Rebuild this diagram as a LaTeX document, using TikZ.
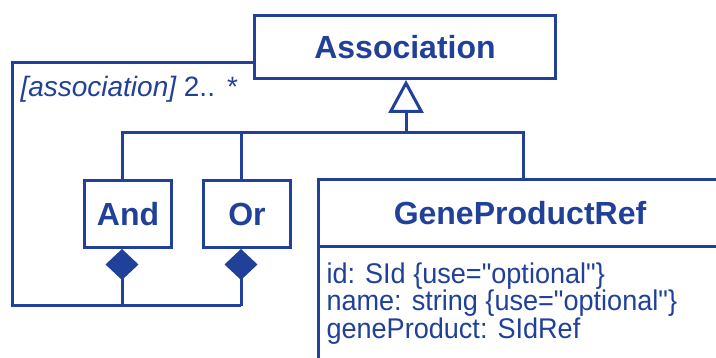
\documentclass[tikz,border=0pt]{standalone}
\usepackage{fontspec}
\setmainfont{Liberation Sans}
\newfontfamily\condfont{Liberation Sans}[FakeStretch=0.95,Ligatures=TeXOff]
\usetikzlibrary{arrows.meta}
\definecolor{umlblue}{RGB}{33,64,154}
\begin{document}
\begin{tikzpicture}[x=1pt,y=-1pt,
  line width=3pt, draw=umlblue, text=umlblue,
  cls/.style={draw=umlblue, fill=white, inner sep=0pt, font=\fontsize{32}{38}\selectfont\bfseries},
  attrbox/.style={draw=umlblue, fill=white, inner sep=0pt},
  gen/.style={-{Triangle[open,fill=white,length=33pt,width=35pt]}},
  comp/.style={-{Diamond[fill=umlblue,length=31pt,width=33pt]}},
  attr/.style={font=\condfont\fontsize{28.5}{27.5}\selectfont, inner sep=0pt, align=left, anchor=north west},
  lbl/.style={font=\fontsize{28}{30}\selectfont, inner sep=0pt, anchor=base west}
]
\useasboundingbox (0,0) rectangle (716,358);
\clip (0,0) rectangle (716,358);

% classes
\node[cls, minimum width=301pt, minimum height=63pt] (assoc) at (405,47) {Association};
\node[cls, minimum width=87pt, minimum height=67pt] (and) at (128,214) {And};
\node[cls, minimum width=87pt, minimum height=67pt] (or) at (247,214) {Or};
\node[attrbox, minimum width=403pt, minimum height=133pt] (gpra) at (520,313.5) {};
\node[cls, minimum width=403pt, minimum height=67.5pt] (gpr) at (520,213.25) {GeneProductRef};
\node[attr] (attrs) at (325,261) {id: SId \{use="optional"\}\\name: string \{use="optional"\}\\geneProduct: SIdRef};

% generalization tree
\coordinate (J) at (406,133);
\coordinate (JL) at (122,133);
\coordinate (JO) at (241,133);
\coordinate (JR) at (523,133);
\draw[umlblue, gen] (J) -- (assoc.south -| J);
\draw[umlblue] (and.north -| JL) -- (JL) -- (JR) -- (gpr.north -| JR);
\draw[umlblue] (JO) -- (or.north -| JO);

% composition
\coordinate (LC) at (122,306);
\coordinate (RC) at (241,306);
\coordinate (BL) at (12,306);
\coordinate (TL) at (12,63);
\draw[umlblue, comp] (LC) -- (and.south -| LC);
\draw[umlblue, comp] (RC) -- (or.south -| RC);
\draw[umlblue, line join=miter] (RC) -- (BL) -- (TL) -- (assoc.west |- TL);

\node[lbl, text=umlblue] (mult) at (19,97) {\itshape[association]\upshape\ 2..\hspace{12pt}*};
\end{tikzpicture}
\end{document}
